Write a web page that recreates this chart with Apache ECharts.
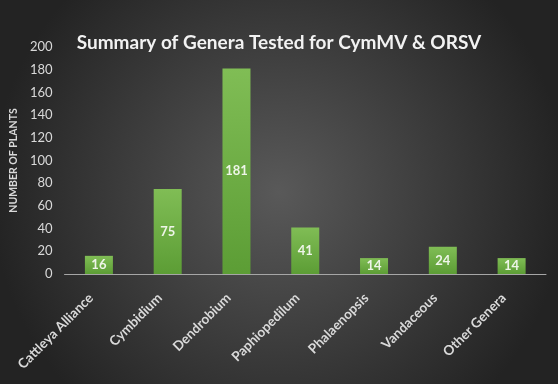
<!DOCTYPE html>
<html>
<head>
<meta charset="utf-8">
<script src="https://cdn.jsdelivr.net/npm/echarts@6/dist/echarts.min.js"></script>
<style>
html,body{margin:0;padding:0;background:#333;}
#c{width:558px;height:384px;}
</style>
</head>
<body>
<div id="c"></div>
<script>
const categories = ["Cattleya Alliance", "Cymbidium", "Dendrobium", "Paphiopedilum", "Phalaenopsis", "Vandaceous", "Other Genera"];
const plants = [16, 75, 181, 41, 14, 24, 14];
const yTicks = {min: 0, max: 200, interval: 20};

const chart = echarts.init(document.getElementById('c'), null, {renderer: 'canvas'});
chart.setOption({
  animation: false,
  backgroundColor: {
    type: 'radial', x: 0.5, y: 0.5, r: 0.75,
    colorStops: [{offset: 0, color: '#595959'}, {offset: 1, color: '#232323'}]
  },
  title: {
    text: 'Summary of Genera Tested for CymMV & ORSV',
    left: 'center', top: 28,
    textStyle: {color: '#f2f2f2', fontSize: 19, fontWeight: 'bold', fontFamily: 'Lato'}
  },
  grid: {left: 62, right: 12, top: 47, bottom: 110},
  xAxis: {
    type: 'category',
    data: categories,
    axisLine: {lineStyle: {color: '#a6a6a6', width: 1}},
    axisTick: {show: false},
    axisLabel: {
      rotate: 45, color: '#d9d9d9', fontSize: 13.5, fontWeight: 'bold',
      fontFamily: 'Lato', margin: 14, interval: 0, padding: [0, 11, 0, 0]
    }
  },
  yAxis: {
    type: 'value',
    min: yTicks.min, max: yTicks.max, interval: yTicks.interval,
    name: 'NUMBER OF PLANTS',
    nameLocation: 'middle', nameGap: 37, nameRotate: 90,
    nameTextStyle: {color: '#d9d9d9', fontSize: 10.5, fontWeight: 'bold', fontFamily: 'Lato'},
    axisLine: {show: false},
    axisTick: {show: false},
    splitLine: {show: false},
    axisLabel: {color: '#d9d9d9', fontSize: 13, fontFamily: 'Lato', margin: 12}
  },
  series: [{
    type: 'bar',
    data: plants,
    barWidth: 28,
    itemStyle: {
      color: {
        type: 'linear', x: 0, y: 0, x2: 0, y2: 1,
        colorStops: [{offset: 0, color: '#80bd55'}, {offset: 1, color: '#5c9d35'}]
      }
    },
    label: {
      show: true, position: 'inside', color: '#eef5e8',
      fontSize: 13, fontWeight: 'bold', fontFamily: 'Lato'
    }
  }]
});
</script>
</body>
</html>
